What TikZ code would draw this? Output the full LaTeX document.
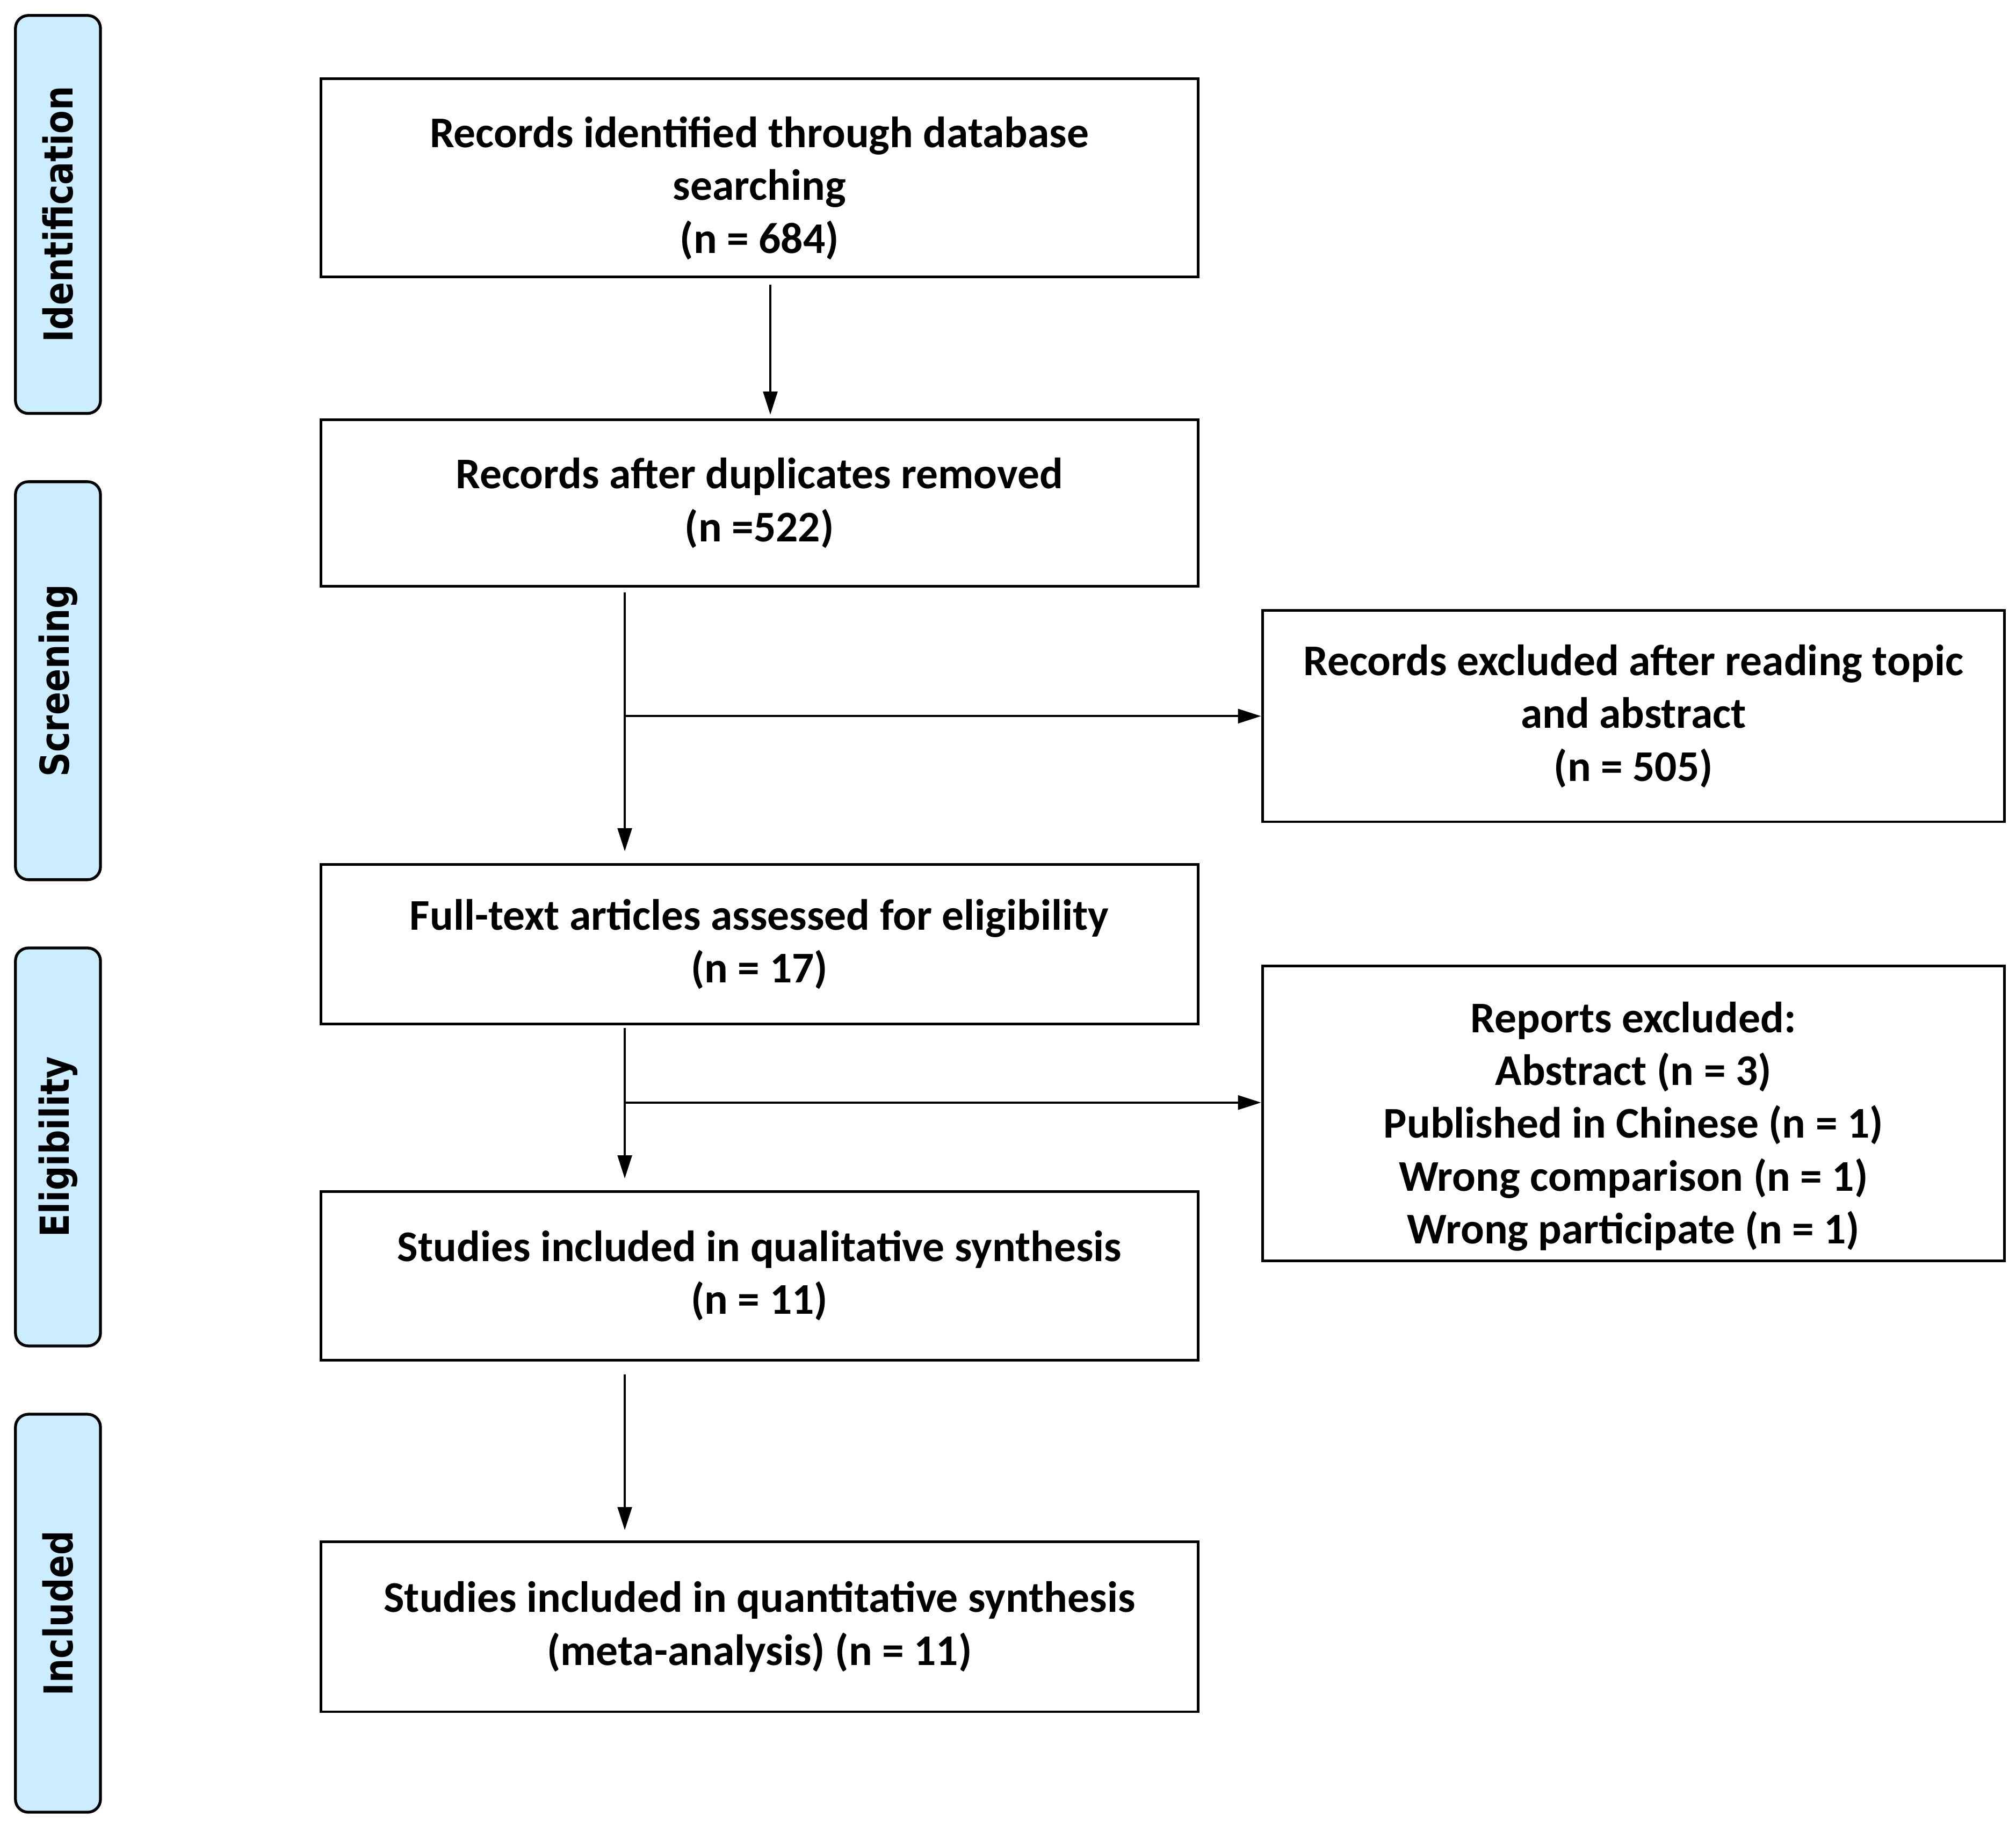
\documentclass[tikz,border=0pt]{standalone}
\usepackage{fontspec}
\setmainfont{Carlito}
\newfontfamily\sidefont{DejaVu Sans}
\usetikzlibrary{arrows.meta}
\definecolor{phaseblue}{HTML}{CCECFF}
\tikzset{
  phase/.style={draw=black, line width=1.1pt, fill=phaseblue, rounded corners=5pt,
    rotate=90, minimum width=154.5pt, minimum height=33pt, inner sep=0pt,
    font=\sidefont\bfseries\fontsize{15.5}{18}\selectfont},
  box/.style={draw=black, line width=1pt, align=center, inner sep=0pt,
    font=\bfseries\fontsize{17}{20.5}\selectfont},
  mainbox/.style={box, minimum width=340.5pt},
  exbox/.style={box, minimum width=288pt},
  arr/.style={line width=0.9pt, -{Triangle[length=9pt,width=5.5pt]}}
}
\begin{document}
\begin{tikzpicture}[x=0.5pt,y=-0.5pt]
\useasboundingbox (0,0) rectangle (1565,1416);
% phase labels
\node[phase] (p1) at (45,166.5) {\scalebox{0.853}[1]{Identification}};
\node[phase] (p2) at (45,528.5) {\scalebox{0.853}[1]{Screening}};
\node[phase] (p3) at (45,890.5) {\scalebox{0.853}[1]{Eligibility}};
\node[phase] (p4) at (45,1252.5) {\scalebox{0.853}[1]{Included}};
% main boxes
\node[mainbox, minimum height=77pt] (b1) at (589.5,138)
  {\rule{0pt}{20pt}Records identified through database\\searching\\(n = 684)};
\node[mainbox, minimum height=64.5pt] (b2) at (589.5,390.5)
  {Records after duplicates removed\\(n =522)};
\node[exbox, minimum height=82pt] (e1) at (1268,556)
  {Records excluded after reading topic\\and abstract\\(n = 505)};
\node[mainbox, minimum height=62pt] (b3) at (589.5,733)
  {Full-text articles assessed for eligibility\\(n = 17)};
\node[exbox, minimum height=114.5pt] (e2) at (1268,864.5)
  {\rule{0pt}{22pt}Reports excluded:\\Abstract (n = 3)\\Published in Chinese (n = 1)\\Wrong comparison (n = 1)\\Wrong participate (n = 1)};
\node[mainbox, minimum height=65.5pt] (b4) at (589.5,990.5)
  {Studies included in qualitative synthesis\\(n = 11)};
\node[mainbox, minimum height=66pt] (b5) at (589.5,1263)
  {Studies included in quantitative synthesis\\(meta-analysis) (n = 11)};
% spine coordinates
\coordinate (s1) at (598,0);
\coordinate (s2) at (485,0);
\coordinate (j1) at (485,556);
\coordinate (j2) at (485,856);
% connectors
\draw[arr] ([yshift=-2.5pt]b1.south -| s1) -- ([yshift=1.5pt]b2.north -| s1);
\draw[arr] ([yshift=-2pt]b2.south -| s2) -- ([yshift=4.5pt]b3.north -| s2);
\draw[arr] (j1) -- (e1.west);
\draw[arr] ([yshift=-1pt]b3.south -| s2) -- ([yshift=4.5pt]b4.north -| s2);
\draw[arr] (j2) -- (j2 -| e2.west);
\draw[arr] ([yshift=-5pt]b4.south -| s2) -- ([yshift=4pt]b5.north -| s2);
\end{tikzpicture}
\end{document}
